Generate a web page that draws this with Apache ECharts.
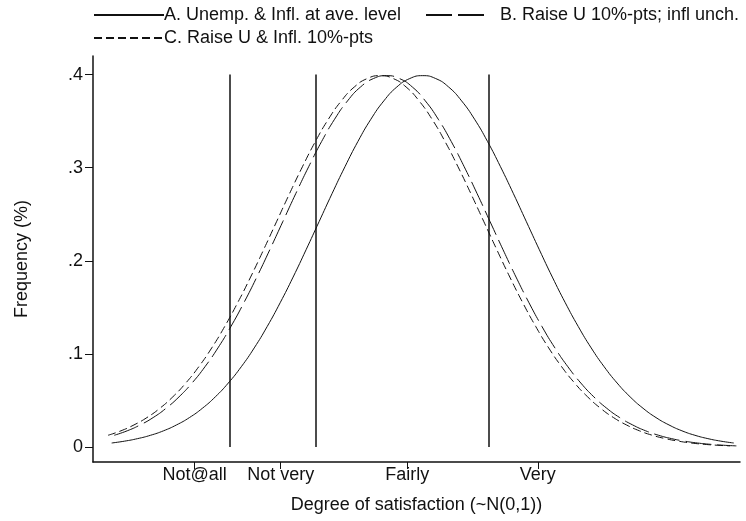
<!DOCTYPE html>
<html>
<head>
<meta charset="utf-8">
<script src="https://cdn.jsdelivr.net/npm/echarts@6/dist/echarts.min.js"></script>
<style>
  html, body { margin: 0; padding: 0; background: #fff; }
  #chart { width: 746px; height: 521px; }
</style>
</head>
<body>
<div id="chart"></div>
<script>
var names = ['A. Unemp. & Infl. at ave. level', 'B. Raise U 10%-pts; infl unch.', 'C. Raise U & Infl. 10%-pts']

// density curves (x in N(0,1) units)
var xA = [-3, -2.875, -2.75, -2.625, -2.5, -2.375, -2.25, -2.125, -2, -1.875, -1.75, -1.625, -1.5,
  -1.375, -1.25, -1.125, -1, -0.875, -0.75, -0.625, -0.5, -0.375, -0.25, -0.125, 0,
  0.125, 0.25, 0.375, 0.5, 0.625, 0.75, 0.875, 1, 1.125, 1.25, 1.375, 1.5,
  1.625, 1.75, 1.875, 2, 2.125, 2.25, 2.375, 2.5, 2.625, 2.75, 2.875, 3]
var yA = [0.0044, 0.0064, 0.0091, 0.0127, 0.0175, 0.0238, 0.0317, 0.0417, 0.0540, 0.0688, 0.0863, 0.1065, 0.1295,
  0.1550, 0.1826, 0.2119, 0.2420, 0.2721, 0.3011, 0.3282, 0.3521, 0.3718, 0.3867, 0.3958, 0.3989,
  0.3958, 0.3867, 0.3718, 0.3521, 0.3282, 0.3011, 0.2721, 0.2420, 0.2119, 0.1826, 0.1550, 0.1295,
  0.1065, 0.0863, 0.0688, 0.0540, 0.0417, 0.0317, 0.0238, 0.0175, 0.0127, 0.0091, 0.0064, 0.0044]

var xB = [-2.975, -2.85, -2.725, -2.6, -2.475, -2.35, -2.225, -2.1, -1.975, -1.85, -1.725, -1.6, -1.475,
  -1.35, -1.225, -1.1, -0.975, -0.85, -0.725, -0.6, -0.475, -0.35, -0.225, -0.1, 0.025,
  0.15, 0.275, 0.4, 0.525, 0.65, 0.775, 0.9, 1.025, 1.15, 1.275, 1.4, 1.525,
  1.65, 1.775, 1.9, 2.025, 2.15, 2.275, 2.4, 2.525, 2.65, 2.775, 2.9, 3.025]
var yB = [0.0127, 0.0175, 0.0238, 0.0317, 0.0417, 0.0540, 0.0688, 0.0863, 0.1065, 0.1295, 0.1550, 0.1826, 0.2119,
  0.2420, 0.2721, 0.3011, 0.3282, 0.3521, 0.3718, 0.3867, 0.3958, 0.3989, 0.3958, 0.3867, 0.3718,
  0.3521, 0.3282, 0.3011, 0.2721, 0.2420, 0.2119, 0.1826, 0.1550, 0.1295, 0.1065, 0.0863, 0.0688,
  0.0540, 0.0417, 0.0317, 0.0238, 0.0175, 0.0127, 0.0091, 0.0064, 0.0044, 0.0030, 0.0020, 0.0013]

var xC = [-3.035, -2.91, -2.785, -2.66, -2.535, -2.41, -2.285, -2.16, -2.035, -1.91, -1.785, -1.66, -1.535,
  -1.41, -1.285, -1.16, -1.035, -0.91, -0.785, -0.66, -0.535, -0.41, -0.285, -0.16, -0.035,
  0.09, 0.215, 0.34, 0.465, 0.59, 0.715, 0.84, 0.965, 1.09, 1.215, 1.34, 1.465,
  1.59, 1.715, 1.84, 1.965, 2.09, 2.215, 2.34, 2.465, 2.59, 2.715, 2.84, 2.965]
var yC = [0.0127, 0.0175, 0.0238, 0.0317, 0.0417, 0.0540, 0.0688, 0.0863, 0.1065, 0.1295, 0.1550, 0.1826, 0.2119,
  0.2420, 0.2721, 0.3011, 0.3282, 0.3521, 0.3718, 0.3867, 0.3958, 0.3989, 0.3958, 0.3867, 0.3718,
  0.3521, 0.3282, 0.3011, 0.2721, 0.2420, 0.2119, 0.1826, 0.1550, 0.1295, 0.1065, 0.0863, 0.0688,
  0.0540, 0.0417, 0.0317, 0.0238, 0.0175, 0.0127, 0.0091, 0.0064, 0.0044, 0.0030, 0.0020, 0.0013]

// category cut points (vertical lines)
var cuts = [-1.86, -1.03, 0.64]
var cutTop = 0.4

// x tick labels
var xTicks = [-2.2, -1.37, -0.15, 1.11]
var xTickLabels = ['Not@all', 'Not very', 'Fairly', 'Very']
var yTicks = [0, 0.1, 0.2, 0.3, 0.4]

function pairs(xs, ys) {
  return xs.map(function (x, i) { return [x, ys[i]] })
}

var font = 'Liberation Sans, Arial, sans-serif'
var ink = '#111'

var chart = echarts.init(document.getElementById('chart'))

function legendAt(name, left, top, w, gap) {
  return {
    data: [name], left: left, top: top, itemWidth: w, itemHeight: 12,
    itemStyle: { opacity: 0 },
    textStyle: { fontSize: 18, color: ink, fontFamily: font, padding: [0, 0, 0, gap] }
  }
}

chart.setOption({
  animation: false,
  backgroundColor: '#fff',
  textStyle: { fontFamily: font, color: ink },
  grid: { left: 93, right: 6, top: 56, bottom: 59 },
  legend: [
    legendAt(names[0], 88, 1, 70, -5),
    legendAt(names[1], 420, 1, 62, 7),
    legendAt(names[2], 88, 24, 70, -5)
  ],
  xAxis: {
    type: 'value',
    min: -3.18,
    max: 3.06,
    name: 'Degree of satisfaction (~N(0,1))',
    nameLocation: 'middle',
    nameGap: 34,
    nameTextStyle: { fontSize: 18, color: ink, fontFamily: font },
    axisLine: { onZero: false, lineStyle: { color: ink, width: 1.5 } },
    axisTick: { customValues: xTicks, length: 7, lineStyle: { color: ink } },
    axisLabel: {
      customValues: xTicks,
      fontSize: 18,
      color: ink,
      margin: 4,
      formatter: function (v) {
        var i = xTicks.indexOf(v)
        return i >= 0 ? xTickLabels[i] : ''
      }
    },
    splitLine: { show: false }
  },
  yAxis: {
    type: 'value',
    min: -0.016,
    max: 0.42,
    name: 'Frequency (%)',
    nameLocation: 'middle',
    nameGap: 62,
    nameTextStyle: { fontSize: 18, color: ink, fontFamily: font },
    axisLine: { onZero: false, lineStyle: { color: ink, width: 1.5 } },
    axisTick: { customValues: yTicks, length: 8, lineStyle: { color: ink } },
    axisLabel: {
      customValues: yTicks,
      fontSize: 18,
      color: ink,
      margin: 10,
      formatter: function (v) {
        return v === 0 ? '0' : '.' + Math.round(v * 10)
      }
    },
    splitLine: { show: false }
  },
  series: [
    {
      name: names[0],
      type: 'line',
      smooth: true,
      symbol: 'none',
      data: pairs(xA, yA),
      lineStyle: { color: ink, width: 1, type: 'solid' },
      itemStyle: { color: ink },
      markLine: {
        silent: true,
        symbol: ['none', 'none'],
        label: { show: false },
        lineStyle: { color: ink, width: 1.5, type: 'solid' },
        data: cuts.map(function (c) {
          return [{ coord: [c, 0] }, { coord: [c, cutTop] }]
        })
      }
    },
    {
      name: names[1],
      type: 'line',
      smooth: true,
      symbol: 'none',
      data: pairs(xB, yB),
      lineStyle: { color: ink, width: 1, type: [26, 6] },
      itemStyle: { color: ink }
    },
    {
      name: names[2],
      type: 'line',
      smooth: true,
      symbol: 'none',
      data: pairs(xC, yC),
      lineStyle: { color: ink, width: 1, type: [8, 4] },
      itemStyle: { color: ink }
    }
  ]
})
</script>
</body>
</html>
